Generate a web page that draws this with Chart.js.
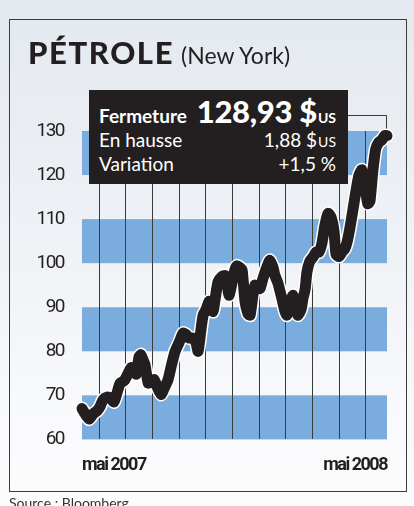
<!DOCTYPE html>
<html><head><meta charset="utf-8">
<script src="https://cdn.jsdelivr.net/npm/chart.js@4.4.1/dist/chart.umd.min.js"></script>
<style>
html,body{margin:0;padding:0;}
body{width:414px;height:506px;overflow:hidden;position:relative;
  background:linear-gradient(180deg,#e4e9f0 0%,#eef1f5 45%,#f8f9fb 80%,#fcfcfd 100%);
  font-family:Lato,"Open Sans",sans-serif;color:#231f20;}
#frame{position:absolute;left:9px;top:19px;width:396px;height:471px;border:1.5px solid #3c3c3e;box-sizing:content-box;}
#c{position:absolute;left:0;top:0;}
#title{position:absolute;left:28px;top:34px;white-space:nowrap;line-height:1.2;}
#title .big{font-weight:900;font-size:31px;letter-spacing:1.6px;}
#title .small{font-weight:400;font-size:23px;margin-left:7px;}
#box{position:absolute;left:89px;top:90px;width:259px;height:94px;background:#231f20;color:#fff;}
.row{position:absolute;left:10px;right:12px;display:flex;justify-content:space-between;align-items:baseline;white-space:nowrap;line-height:1.2;}
.r1{top:3px;}
.r2{top:39px;}
.r3{top:63px;}
.lbl{font-size:19px;}
.b{font-weight:700;}
.num{font-weight:900;font-size:31px;letter-spacing:-0.3px;}
.us{font-size:14px;font-weight:700;margin-left:1px;}
.usr{font-size:14px;margin-left:1px;}
#src{position:absolute;left:9px;top:495px;font-size:14px;color:#333;white-space:nowrap;line-height:1.2;}
</style></head>
<body>
<div id="frame"></div>
<canvas id="c" width="414" height="506"></canvas>
<div id="title"><span class="big">PÉTROLE</span><span class="small">(New York)</span></div>
<div id="box">
  <div class="row r1"><span class="lbl b">Fermeture</span><span><span class="num">128,93 $</span><span class="us">US</span></span></div>
  <div class="row r2"><span class="lbl">En hausse</span><span class="lbl">1,88 $<span class="usr">US</span></span></div>
  <div class="row r3"><span class="lbl">Variation</span><span class="lbl">+1,5 %</span></div>
</div>
<div id="src">Source : Bloomberg</div>
<script>
// x: months relative to the first monthly gridline
const monthPos = [-0.64,-0.49,-0.37,-0.22,-0.07,0.04,0.15,0.30,0.41,0.56,0.67,0.79,0.94,1.09,1.20,1.31,1.39,1.50,1.57,1.65,1.72,1.84,1.95,2.06,2.17,2.32,2.43,2.58,2.70,2.85,3.00,3.15,3.26,3.37,3.52,3.63,3.71,3.82,3.90,4.01,4.12,4.19,4.27,4.34,4.46,4.61,4.72,4.79,4.87,4.98,5.09,5.17,5.28,5.36,5.47,5.58,5.66,5.77,5.84,5.96,6.03,6.14,6.22,6.33,6.40,6.52,6.59,6.70,6.85,6.97,7.04,7.15,7.27,7.38,7.45,7.57,7.64,7.72,7.79,7.90,8.01,8.13,8.24,8.35,8.46,8.58,8.69,8.80,8.88,8.99,9.10,9.21,9.29,9.40,9.51,9.63,9.74,9.85,9.93,10.00,10.07,10.15,10.26,10.37,10.49,10.60,10.71,10.79];
const prices = [67.0,65.5,64.6,65.8,66.5,67.5,69.0,69.6,69.4,68.5,70.5,72.8,73.3,75.0,76.3,75.5,74.8,78.8,79.2,78.0,77.0,72.8,73.0,73.6,72.0,70.2,71.5,73.5,76.5,80.0,82.0,84.1,83.8,83.0,83.0,82.0,80.0,85.0,88.2,89.5,91.3,91.0,89.0,91.5,95.8,97.0,97.2,95.5,92.7,95.5,98.5,99.4,99.0,98.5,91.3,88.5,88.2,93.0,95.0,94.5,94.2,96.5,98.0,99.8,100.6,99.0,97.2,95.5,92.0,89.0,88.2,91.0,92.7,90.0,88.2,89.5,92.0,94.0,98.0,100.5,101.3,102.5,102.5,104.5,108.5,111.3,110.5,107.5,102.0,101.5,102.5,103.3,104.7,108.0,112.0,116.5,120.0,121.2,119.0,116.0,113.5,114.0,121.0,126.0,127.5,128.0,129.0,128.93];
const yTicks = [60,70,80,90,100,110,120,130];
const monthLines = [0,1,2,3,4,5,6,7,8,9,10];
const xLabels = ['mai 2007','mai 2008'];
const bandStarts = [60,80,100,120];
const xMin = -0.64, xMax = 10.79;

const pts = monthPos.map((m,i)=>({x:m,y:prices[i]}));
const tickFamily = 'Roboto, "Liberation Sans", sans-serif';

function tightText(chart){ chart.ctx.letterSpacing = '-1.5px'; }

const bands = {
  id:'bands',
  beforeUpdate(chart){ tightText(chart); },
  beforeDraw(chart){
    tightText(chart);
    const {ctx, chartArea:a, scales:{y}} = chart;
    ctx.save();
    ctx.fillStyle = '#7aaddd';
    bandStarts.forEach(v=>{
      const t = y.getPixelForValue(v+10), b = y.getPixelForValue(v);
      ctx.fillRect(a.left, t, a.right-a.left, b-t);
    });
    ctx.restore();
  },
  beforeDatasetsDraw(chart){
    const {ctx, scales:{x,y}} = chart;
    const px = Math.round(x.getPixelForValue(monthPos[monthPos.length-1]))-0.5;
    const py = y.getPixelForValue(prices[prices.length-1]);
    ctx.save();
    ctx.strokeStyle = '#3a3a3a';
    ctx.lineWidth = 1;
    ctx.beginPath();
    ctx.moveTo(330,115.5); ctx.lineTo(px,115.5); ctx.lineTo(px,py);
    ctx.stroke();
    ctx.restore();
  }
};

new Chart(document.getElementById('c'),{
  type:'line',
  data:{datasets:[
    {data:pts, borderColor:'#231f20', borderWidth:11, pointRadius:0, tension:0.2, clip:20, borderCapStyle:'round', borderJoinStyle:'round'},
    {data:pts, borderColor:'#ffffff', borderWidth:14, pointRadius:0, tension:0.2, clip:20, borderCapStyle:'round', borderJoinStyle:'round'}
  ]},
  options:{
    responsive:false, animation:false, events:[],
    plugins:{legend:{display:false}, tooltip:{enabled:false}},
    layout:{padding:{left:0,right:27,top:131,bottom:15}},
    scales:{
      x:{type:'linear', min:xMin, max:xMax,
        afterBuildTicks:s=>{ s.ticks=[xMin,...monthLines,xMax].map(v=>({value:v})); },
        ticks:{autoSkip:false, maxRotation:0, minRotation:0, align:'inner', padding:15, color:'#231f20',
          font:{family:tickFamily, size:18, weight:'bold'},
          callback:(v,i,t)=> i===0 ? xLabels[0] : (i===t.length-1 ? xLabels[1] : '')},
        grid:{drawTicks:false, lineWidth:1,
          color:c=> (c.tick && (c.tick.value===xMin || c.tick.value===xMax)) ? 'rgba(0,0,0,0)' : '#3a3a3a'},
        border:{display:false}
      },
      y:{min:60, max:130,
        afterBuildTicks:s=>{ s.ticks=yTicks.map(v=>({value:v})); },
        afterFit:s=>{ s.width=82; },
        grid:{display:false, drawTicks:false}, border:{display:false},
        ticks:{padding:18, color:'#231f20', font:{family:tickFamily, size:19}}
      }
    }
  },
  plugins:[bands]
});
</script>
</body></html>
